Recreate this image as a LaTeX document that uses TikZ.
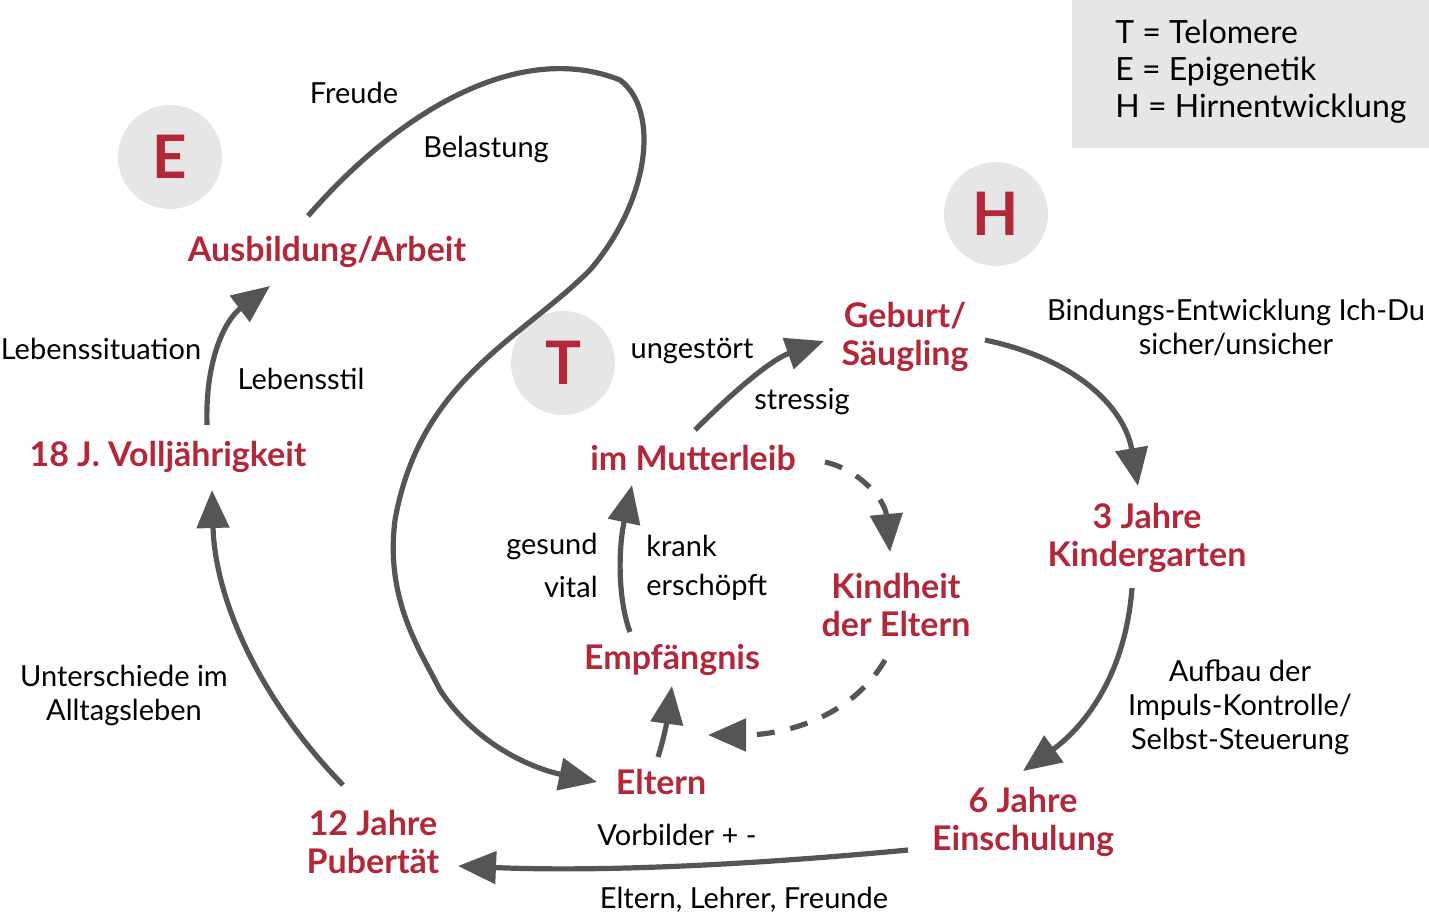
\documentclass[tikz,border=0pt]{standalone}
\usepackage{fontspec}
\setmainfont{Lato}
\usetikzlibrary{arrows.meta}
\definecolor{dred}{HTML}{B22838}
\definecolor{lgray}{HTML}{E6E6E6}
\definecolor{agray}{HTML}{555555}
\begin{document}
\begin{tikzpicture}[x=0.5pt,y=-0.5pt,
  red/.style={text=dred,font=\fontsize{17}{19}\selectfont\bfseries,align=center,inner sep=0pt},
  lab/.style={text=black,font=\fontsize{14.5}{17}\selectfont,align=center,inner sep=0pt},
  circ/.style={circle,fill=lgray,minimum size=52pt,text=dred,font=\fontsize{30}{30}\selectfont\bfseries,inner sep=0pt},
  arr/.style={draw=agray,line width=2.6pt,-{Triangle[length=19pt,width=16pt]}},
  darr/.style={arr,dash pattern=on 9pt off 8pt}]
\useasboundingbox (0,0) rectangle (1429,915);
\fill[lgray] (1072,0) rectangle (1429,148);
\node[lab,anchor=west,align=left,font=\fontsize{16}{18.5}\selectfont] (leg) at (1115,72) {T = Telomere\\E = Epigenetik\\H = Hirnentwicklung};
\node[circ] (E) at (170,157) {E};
\node[circ] (T) at (563,363) {T};
\node[circ] (H) at (996,214) {H};
\node[red] (aus) at (327,252) {Ausbildung/Arbeit};
\node[red] (vol) at (168,457) {18 J. Volljährigkeit};
\node[red] (pub) at (373,842) {12 Jahre\\Pubertät};
\node[red] (ein) at (1023,822) {6 Jahre\\Einschulung};
\node[red] (kig) at (1147,538) {3 Jahre\\Kindergarten};
\node[red] (geb) at (905,337) {Geburt/\\Säugling};
\node[red] (mut) at (693,458) {im Mutterleib};
\node[red] (kdE) at (896,605) {Kindheit\\der Eltern};
\node[red] (emp) at (672,660) {Empfängnis};
\node[red] (elt) at (661,782) {Eltern};
\node[lab] (fr) at (354,93) {Freude};
\node[lab] (bel) at (486,149) {Belastung};
\node[lab] (ls) at (101,349) {Lebenssituation};
\node[lab] (lst) at (301,379) {Lebensstil};
\node[lab] (ung) at (692,351) {ungestört};
\node[lab] (str) at (802,402) {stressig};
\node[lab] (bind) at (1236,327) {Bindungs-Entwicklung Ich-Du\\sicher/unsicher};
\node[lab,anchor=east] (ges) at (598,546) {gesund};
\node[lab,anchor=east] (vit) at (598,587) {vital};
\node[lab,anchor=west] (kr) at (646,546) {krank};
\node[lab,anchor=west] (ers) at (646,587) {erschöpft};
\node[lab] (unt) at (124,695) {Unterschiede im\\Alltagsleben};
\node[lab] (auf) at (1240,707) {Aufbau der\\Impuls-Kontrolle/\\Selbst-Steuerung};
\node[lab] (vor) at (677,835) {Vorbilder + -};
\node[lab] (elf) at (744,900) {Eltern, Lehrer, Freunde};
% connector end points
\coordinate (a1) at (207,425); \coordinate (a2) at (270,286);
\coordinate (b1) at (343,785); \coordinate (b2) at (212,490);
\coordinate (c1) at (308,216); \coordinate (c2) at (597,782);
\coordinate (d1) at (630,632); \coordinate (d2) at (632,485);
\coordinate (e1) at (695,430); \coordinate (e2) at (824,341);
\coordinate (f1) at (985,340); \coordinate (f2) at (1138,486);
\coordinate (g1) at (1132,588); \coordinate (g2) at (1023,771);
\coordinate (h1) at (908,850); \coordinate (h2) at (458,866);
\coordinate (i1) at (658,757); \coordinate (i2) at (672,686);
\coordinate (j1) at (825,462); \coordinate (j2) at (890,552);
\coordinate (k1) at (885,660); \coordinate (k2) at (708,735);
\draw[arr] (a1) .. controls (205,360) and (225,320) .. (a2);
\draw[arr] (b1) .. controls (260,700) and (215,600) .. (b2);
\draw[arr] (c1) .. controls (400,110) and (520,40) .. (620,80)
  .. controls (660,110) and (650,200) .. (590,270)
  .. controls (520,340) and (420,380) .. (395,520)
  .. controls (385,600) and (420,650) .. (440,690)
  .. controls (480,750) and (540,770) .. (c2);
\draw[arr] (d1) .. controls (618,600) and (618,550) .. (d2);
\draw[arr] (e1) .. controls (730,395) and (770,360) .. (e2);
\draw[arr] (f1) .. controls (1080,360) and (1125,410) .. (f2);
\draw[arr] (g1) .. controls (1125,680) and (1080,730) .. (g2);
\draw[arr] (h1) .. controls (750,865) and (600,872) .. (h2);
\draw[arr] (i1) .. controls (665,735) and (668,715) .. (i2);
\draw[darr] (j1) .. controls (860,470) and (885,500) .. (j2);
\draw[darr] (k1) .. controls (850,720) and (780,735) .. (k2);
\end{tikzpicture}
\end{document}
